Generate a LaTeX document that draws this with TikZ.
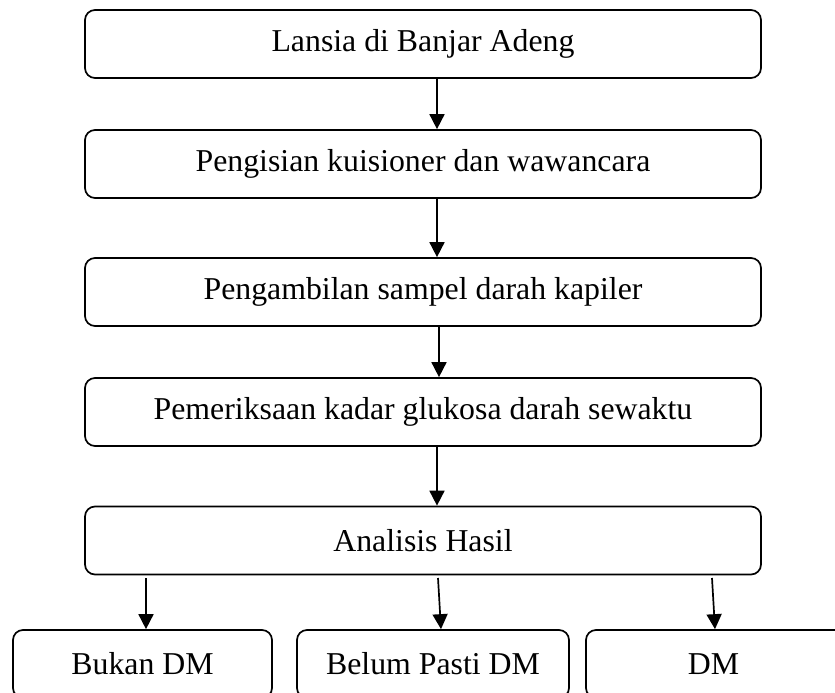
\documentclass[tikz,border=0pt]{standalone}
\usepackage{fontspec}
\setmainfont{Liberation Serif}
\usetikzlibrary{arrows.meta}
\begin{document}
\begin{tikzpicture}[x=1pt,y=-1pt,
  box/.style={draw, line width=1.7pt, rounded corners=10pt, minimum height=68pt, inner sep=0pt, align=center, font=\fontsize{31.8}{38}\selectfont},
  wide/.style={box, minimum width=676pt},
  arr/.style={line width=1.7pt, -{Triangle[width=15pt,length=15pt]}}]
\clip (0,0) rectangle (835,693);
\node[wide] (n1) at (423,44) {Lansia di Banjar Adeng};
\node[wide] (n2) at (423,164) {Pengisian kuisioner dan wawancara};
\node[wide] (n3) at (423,292) {Pengambilan sampel darah kapiler};
\node[wide] (n4) at (423,412) {Pemeriksaan kadar glukosa darah sewaktu};
\node[wide] (n5) at (423,540.5) {Analisis Hasil};
\node[box, minimum width=259pt] (a) at (142.5,664) {Bukan DM};
\node[box, minimum width=272pt] (b) at (433,664) {Belum Pasti DM};
\node[box, minimum width=275pt] (c) at (723.5,664) {\hspace*{-20pt}DM};
\draw[arr] ([xshift=14pt]n1.south) -- ([xshift=14pt]n2.north);
\draw[arr] ([xshift=14pt]n2.south) -- ([xshift=14pt]n3.north);
\draw[arr] ([xshift=16pt]n3.south) -- ([xshift=16pt]n4.north);
\draw[arr] ([xshift=14pt]n4.south) -- ([xshift=14pt]n5.north);
\coordinate (s1) at (146,578);
\coordinate (s2) at (438,578);
\coordinate (s3) at (712,578);
\draw[arr] (s1) -- (a.north -| s1);
\draw[arr] (s2) -- ([xshift=8pt]b.north);
\draw[arr] (s3) -- ([xshift=-8.5pt]c.north);
\end{tikzpicture}
\end{document}
